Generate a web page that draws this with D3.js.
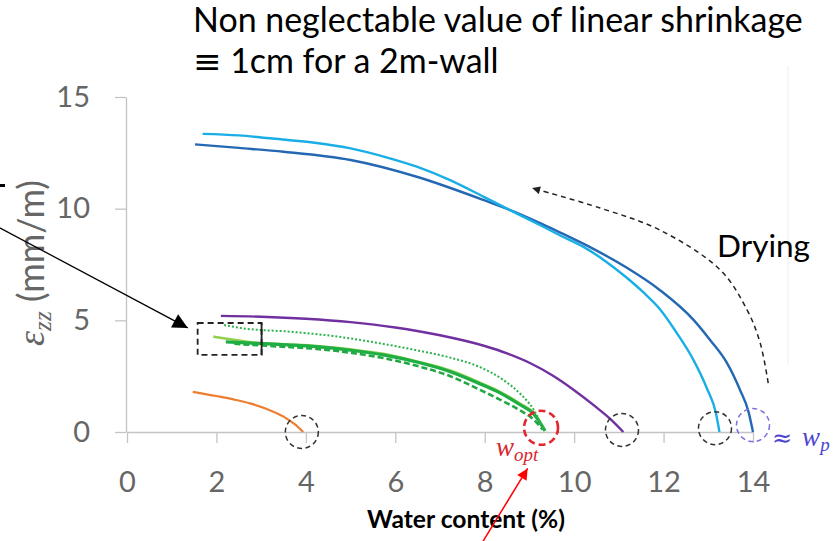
<!DOCTYPE html>
<html>
<head>
<meta charset="utf-8">
<script src="https://cdn.jsdelivr.net/npm/d3@7"></script>
<style>
  body { margin: 0; background: #fff; }
  svg { display: block; }
</style>
</head>
<body>
<svg id="chart" width="836" height="541"></svg>
<script>
// water content (%) against linear shrinkage eps_zz (mm/m)
const xTicks = [0, 2, 4, 6, 8, 10, 12, 14];
const yTicks = [0, 5, 10, 15];

const orange = [[1.47, 1.80], [2.0, 1.61], [2.4, 1.45], [2.75, 1.28], [3.1, 1.05], [3.5, 0.69], [3.75, 0.35], [3.94, 0.0]];
const purple = [[2.1, 5.2], [3.0, 5.16], [4.0, 5.07], [5.0, 4.92], [6.0, 4.68], [7.0, 4.33], [8.0, 3.85], [8.5, 3.52],
  [9.0, 3.1], [9.5, 2.55], [10.0, 1.87], [10.5, 1.1], [10.8, 0.6], [11.1, 0.0]];
const greenDotted = [[2.17, 4.79], [2.6, 4.64], [3.65, 4.49], [4.6, 4.3], [5.66, 3.97], [6.5, 3.65], [7.23, 3.33],
  [7.9, 2.9], [8.4, 2.35], [8.8, 1.7], [9.1, 0.98], [9.31, 0.15]];
const lightGreen = [[1.93, 4.27], [2.5, 4.1], [2.9, 3.99], [3.6, 3.92], [4.24, 3.85], [5.0, 3.7], [5.73, 3.5], [6.5, 3.15],
  [7.23, 2.75], [7.9, 2.2], [8.34, 1.8], [8.79, 1.27], [9.09, 0.86], [9.33, 0.1]];
const greenSolid = [[2.21, 4.04], [2.9, 3.97], [3.6, 3.9], [4.24, 3.82], [5.0, 3.66], [5.73, 3.45], [6.5, 3.12], [7.23, 2.7],
  [7.9, 2.15], [8.34, 1.75], [8.79, 1.22], [9.09, 0.82], [9.35, 0.05]];
const greenDashed = [[2.4, 3.95], [3.2, 3.85], [4.24, 3.72], [5.0, 3.55], [5.73, 3.31], [6.5, 2.95], [7.23, 2.5],
  [7.9, 1.88], [8.34, 1.45], [8.79, 0.97], [9.1, 0.55], [9.3, 0.1]];
const lightBlue = [[1.69, 13.35], [2.5, 13.28], [3.2, 13.15], [4.2, 12.95], [5.0, 12.7], [5.8, 12.3], [6.48, 11.88],
  [7.2, 11.3], [7.97, 10.54], [8.7, 9.8], [9.3, 9.2], [9.69, 8.8], [10.2, 8.3], [10.7, 7.65], [11.15, 6.95], [11.55, 6.25],
  [11.92, 5.5], [12.3, 4.42], [12.67, 3.22], [12.97, 1.95], [13.17, 0.85], [13.25, 0.0]];
const darkBlue = [[1.52, 12.88], [2.5, 12.72], [3.5, 12.55], [5.0, 12.18], [6.48, 11.43], [7.97, 10.39], [8.8, 9.75],
  [9.3, 9.3], [9.69, 8.93], [10.43, 8.2], [11.18, 7.35], [11.92, 6.35], [12.67, 5.02], [13.04, 4.12], [13.42, 3.08],
  [13.71, 1.88], [13.9, 0.9], [14.0, 0.0]];

// end points that get a dashed circle
const blackCircles = [[3.91, 0.0], [11.07, 0.09], [13.15, 0.17]];
const optCircle = [9.26, 0.19];
const plasticCircle = [14.0, 0.31];
// "Drying" arrow path
const dryingPath = [[14.34, 2.19], [14.16, 3.99], [13.87, 5.46], [13.27, 7.25], [11.92, 9.04], [10.58, 10.03], [9.06, 10.92]];

const svg = d3.select('#chart');
const font = 'Lato, "Open Sans", sans-serif';
const mathFont = '"Liberation Serif", "DejaVu Serif", serif';

const x = d3.scaleLinear().domain([0, 14]).range([127, 753]);
const y = d3.scaleLinear().domain([0, 15]).range([432, 97]);

// fit a text element to a given pixel width by scaling its font size(s)
function fit(sel, w) {
  const len = sel.node().getComputedTextLength();
  const k = w / len;
  sel.selectAll('tspan').each(function () {
    const t = d3.select(this);
    if (t.attr('font-size')) t.attr('font-size', parseFloat(t.attr('font-size')) * k);
  });
  if (sel.attr('font-size')) sel.attr('font-size', parseFloat(sel.attr('font-size')) * k);
}

const defs = svg.append('defs');
function head(id, color, w, h) {
  defs.append('marker')
    .attr('id', id)
    .attr('viewBox', '0 0 10 10')
    .attr('refX', 10).attr('refY', 5)
    .attr('markerWidth', w).attr('markerHeight', h)
    .attr('markerUnits', 'userSpaceOnUse')
    .attr('orient', 'auto')
    .append('path').attr('d', 'M0,0L10,5L0,10z').attr('fill', color);
}
head('headBlack', '#000', 17, 15);
head('headRed', '#ff0000', 15, 11);
head('headSmall', '#222', 10, 8);

// faint edge of the pasted picture
svg.append('line').attr('x1', 788).attr('x2', 788).attr('y1', 66).attr('y2', 365)
  .attr('stroke', '#eeeeee').attr('stroke-width', 1);

// axes
const xAxis = svg.append('g')
  .attr('transform', `translate(0,${y(0)})`)
  .call(d3.axisBottom(x).tickValues(xTicks).tickSize(11).tickSizeOuter(0).tickPadding(28));
const yAxis = svg.append('g')
  .attr('transform', `translate(${x(0) - 1},0)`)
  .call(d3.axisLeft(y).tickValues(yTicks).tickSize(11).tickSizeOuter(0).tickPadding(25));

[xAxis, yAxis].forEach(g => {
  g.select('.domain').attr('stroke', '#c4c4c4').attr('stroke-width', 1.3);
  g.selectAll('.tick line').attr('stroke', '#c4c4c4').attr('stroke-width', 1.3);
  g.selectAll('.tick text').attr('fill', '#666').attr('font-family', font).attr('font-size', 29);
});

// axis titles
svg.append('text')
  .attr('x', 466).attr('y', 528)
  .attr('text-anchor', 'middle')
  .attr('font-family', font).attr('font-weight', 'bold').attr('font-size', 18)
  .attr('fill', '#000')
  .text('Water content (%)')
  .call(fit, 198);

const yTitle = svg.append('text')
  .attr('transform', 'translate(44,263) rotate(-90)')
  .attr('text-anchor', 'middle')
  .attr('fill', '#666');
yTitle.append('tspan').attr('font-family', mathFont).attr('font-style', 'italic').attr('font-size', 32).text('ε');
yTitle.append('tspan').attr('font-family', mathFont).attr('font-style', 'italic').attr('font-size', 21).attr('dy', 7).text('zz');
yTitle.append('tspan').attr('font-family', font).attr('font-size', 30).attr('dy', -7).text(' (mm/m)');
fit(yTitle, 166);

// series
const line = d3.line().x(d => x(d[0])).y(d => y(d[1])).curve(d3.curveMonotoneX);
const series = [
  { data: orange, color: '#ed7d31', width: 2.2 },
  { data: purple, color: '#7030a0', width: 2.4 },
  { data: greenDashed, color: '#21a843', width: 2.6, dash: '6,3' },
  { data: lightGreen, color: '#92d050', width: 2.6 },
  { data: greenSolid, color: '#1fae44', width: 3.2 },
  { data: greenDotted, color: '#2cb24c', width: 2, dash: '2,2' },
  { data: darkBlue, color: '#2468b4', width: 2.4 },
  { data: lightBlue, color: '#1aaee6', width: 2.4 }
];
svg.append('g').selectAll('path')
  .data(series)
  .join('path')
  .attr('d', d => line(d.data))
  .attr('fill', 'none')
  .attr('stroke', d => d.color)
  .attr('stroke-width', d => d.width)
  .attr('stroke-dasharray', d => d.dash || null)
  .attr('stroke-linejoin', 'round');

// dashed circles at the zero-shrinkage ends
svg.append('g').selectAll('circle')
  .data(blackCircles)
  .join('circle')
  .attr('cx', d => x(d[0])).attr('cy', d => y(d[1])).attr('r', 16.5)
  .attr('fill', 'none').attr('stroke', '#333').attr('stroke-width', 1.5).attr('stroke-dasharray', '5,3.5');
svg.append('circle')
  .attr('cx', x(optCircle[0])).attr('cy', y(optCircle[1])).attr('r', 17)
  .attr('fill', 'none').attr('stroke', '#e3262c').attr('stroke-width', 2.6).attr('stroke-dasharray', '7,4');
svg.append('circle')
  .attr('cx', x(plasticCircle[0])).attr('cy', y(plasticCircle[1])).attr('r', 16.5)
  .attr('fill', 'none').attr('stroke', '#7a70e0').attr('stroke-width', 1.5).attr('stroke-dasharray', '5,3.5');

// dashed box around the low-water starts
const box = { x0: 1.58, x1: 3.01, y0: 3.45, y1: 4.88 };
svg.append('rect')
  .attr('x', x(box.x0)).attr('y', y(box.y1))
  .attr('width', x(box.x1) - x(box.x0)).attr('height', y(box.y0) - y(box.y1))
  .attr('fill', 'none').attr('stroke', '#222').attr('stroke-width', 1.8).attr('stroke-dasharray', '6,4');
svg.append('line')
  .attr('x1', x(box.x1)).attr('x2', x(box.x1)).attr('y1', y(box.y1)).attr('y2', y(box.y0))
  .attr('stroke', '#222').attr('stroke-width', 1.8);

// arrows
svg.append('line')
  .attr('x1', x(-2.9)).attr('y1', y(9.2)).attr('x2', x(1.36)).attr('y2', y(4.66))
  .attr('stroke', '#000').attr('stroke-width', 1.3).attr('marker-end', 'url(#headBlack)');
svg.append('rect').attr('x', 0).attr('y', 184).attr('width', 5).attr('height', 3).attr('fill', '#000');

svg.append('line')
  .attr('x1', x(7.96)).attr('y1', y(-4.9)).attr('x2', x(8.96)).attr('y2', y(-1.63))
  .attr('stroke', '#ff0000').attr('stroke-width', 1.5).attr('marker-end', 'url(#headRed)');

svg.append('path')
  .attr('d', d3.line().x(d => x(d[0])).y(d => y(d[1])).curve(d3.curveCatmullRom)(dryingPath))
  .attr('fill', 'none').attr('stroke', '#222').attr('stroke-width', 1.5).attr('stroke-dasharray', '5,4')
  .attr('marker-end', 'url(#headSmall)');

// texts
svg.append('text')
  .attr('x', 717).attr('y', 257)
  .attr('font-family', font).attr('font-size', 30).attr('fill', '#000')
  .text('Drying')
  .call(fit, 93);

const t1 = svg.append('text')
  .attr('x', 193).attr('y', 32)
  .attr('font-family', font).attr('font-size', 28).attr('fill', '#000')
  .text('Non neglectable value of linear shrinkage')
  .call(fit, 610);
const t2 = svg.append('text')
  .attr('x', 193).attr('y', 73)
  .attr('font-family', font).attr('font-size', t1.attr('font-size')).attr('fill', '#000');
t2.append('tspan').attr('font-family', '"DejaVu Sans", sans-serif').text('≡');
t2.append('tspan').text(' 1cm for a 2m-wall');

const wopt = svg.append('text')
  .attr('x', 496).attr('y', 456)
  .attr('fill', '#d9262f').attr('font-family', mathFont).attr('font-style', 'italic');
wopt.append('tspan').attr('font-size', 27).text('w');
wopt.append('tspan').attr('font-size', 19).attr('dy', 5).text('opt');

const wp = svg.append('text')
  .attr('x', 772).attr('y', 446)
  .attr('fill', '#4d45d0');
wp.append('tspan').attr('font-family', '"DejaVu Sans", sans-serif').attr('font-size', 24).text('≈');
wp.append('tspan').attr('font-family', mathFont).attr('font-style', 'italic').attr('font-size', 27).attr('dx', 10).text('w');
wp.append('tspan').attr('font-family', mathFont).attr('font-style', 'italic').attr('font-size', 19).attr('dy', 5).text('p');
</script>
</body>
</html>
